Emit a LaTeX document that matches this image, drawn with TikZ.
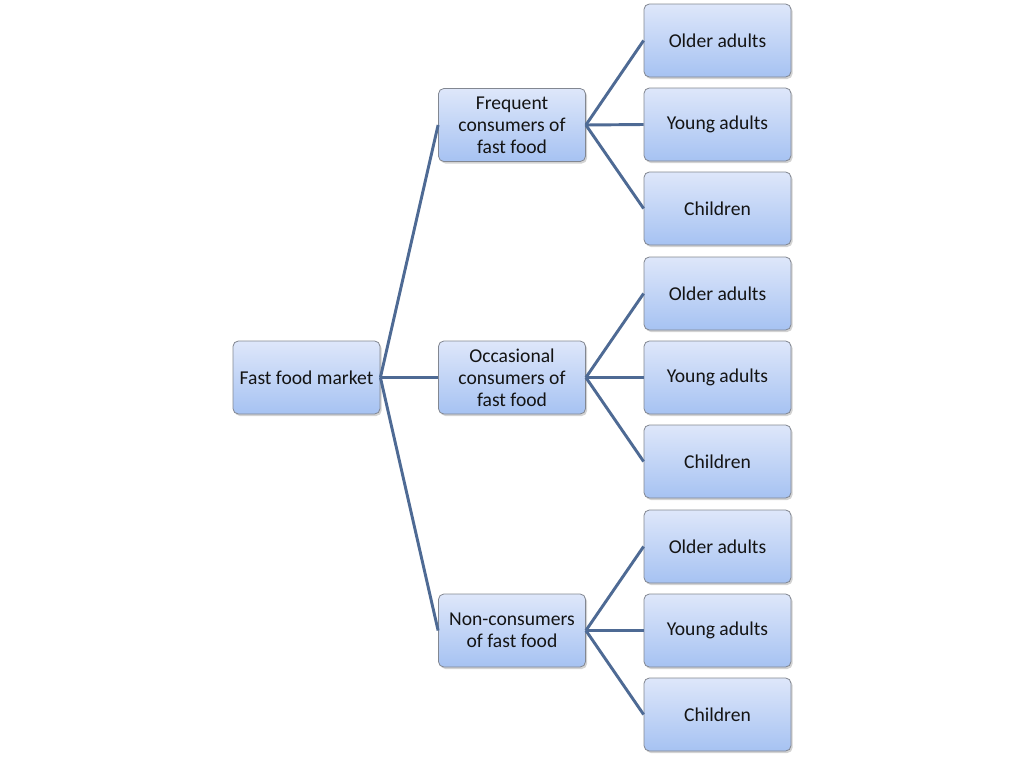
\documentclass[tikz,border=0pt]{standalone}
\usepackage{fontspec}
\setmainfont{Carlito}
\usetikzlibrary{shadows}
\definecolor{boxtop}{RGB}{222,231,250}
\definecolor{boxbot}{RGB}{166,194,242}
\definecolor{boxline}{RGB}{130,135,145}
\definecolor{link}{RGB}{78,106,148}
\definecolor{txt}{RGB}{20,20,20}
\begin{document}
\begin{tikzpicture}[x=0.75pt,y=-0.75pt,
  box/.style={draw=boxline, line width=0.6pt, rounded corners=4pt,
    top color=boxtop, bottom color=boxbot,
    minimum width=110.25pt, minimum height=54.75pt, inner sep=0pt,
    align=center, text=txt, font=\fontsize{14.7}{16.5}\selectfont,
    drop shadow={opacity=0.35, shadow xshift=1.2pt, shadow yshift=-1.5pt}},
  conn/.style={draw=link, line width=2.2pt}]
\useasboundingbox (0,0) rectangle (1024,760);
\node[box] (root) at (306.5,377.5) {Fast food market};
\node[box] (m1) at (512,125) {Frequent\\consumers of\\fast food};
\node[box] (m2) at (512,377.5) {Occasional\\consumers of\\fast food};
\node[box] (m3) at (512,630.5) {Non-consumers\\of fast food};
\node[box] (l1) at (717.5,40.5) {Older adults};
\node[box] (l2) at (717.5,124.5) {Young adults};
\node[box] (l3) at (717.5,208.5) {Children};
\node[box] (l4) at (717.5,293.5) {Older adults};
\node[box] (l5) at (717.5,377.5) {Young adults};
\node[box] (l6) at (717.5,461.5) {Children};
\node[box] (l7) at (717.5,546.5) {Older adults};
\node[box] (l8) at (717.5,630.5) {Young adults};
\node[box] (l9) at (717.5,714.5) {Children};
\foreach \m in {m1,m2,m3} \draw[conn] (root.east) -- (\m.west);
\foreach \l in {l1,l2,l3} \draw[conn] (m1.east) -- (\l.west);
\foreach \l in {l4,l5,l6} \draw[conn] (m2.east) -- (\l.west);
\foreach \l in {l7,l8,l9} \draw[conn] (m3.east) -- (\l.west);
\end{tikzpicture}
\end{document}
